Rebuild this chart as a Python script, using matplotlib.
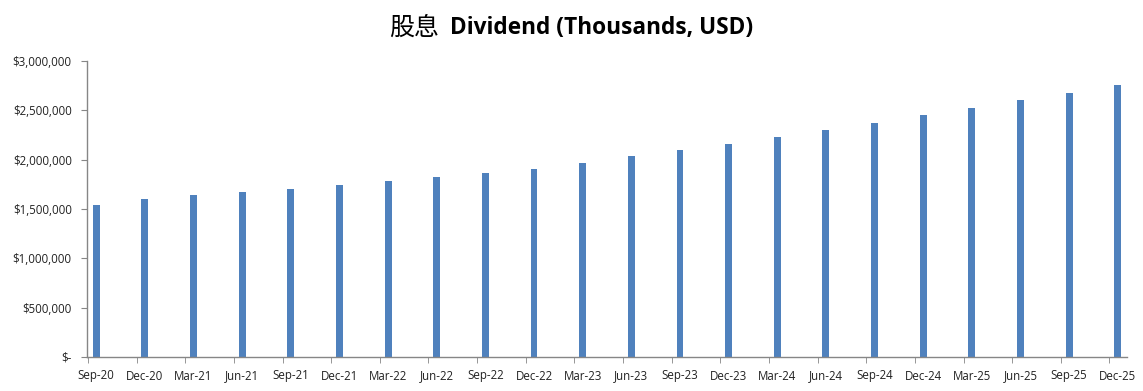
import matplotlib
matplotlib.use("Agg")
import matplotlib.pyplot as plt
from matplotlib.ticker import FuncFormatter, FixedLocator
import numpy as np

# --- DATA ---
quarters = ["Sep-20", "Dec-20", "Mar-21", "Jun-21", "Sep-21", "Dec-21", "Mar-22",
            "Jun-22", "Sep-22", "Dec-22", "Mar-23", "Jun-23", "Sep-23", "Dec-23",
            "Mar-24", "Jun-24", "Sep-24", "Dec-24", "Mar-25", "Jun-25", "Sep-25", "Dec-25"]
dividend = [1537000, 1598000, 1639000, 1669000, 1700000, 1740000, 1781000,
            1821000, 1862000, 1902000, 1963000, 2034000, 2095000, 2156000,
            2227000, 2298000, 2368000, 2449000, 2520000, 2601000, 2672000, 2753000]
y_ticks = [0, 500000, 1000000, 1500000, 2000000, 2500000, 3000000]

BAR_COLOR = "#4F81BD"
AXIS_COLOR = "#868686"

plt.rcParams['font.family'] = ['Open Sans', 'DejaVu Sans']

fig = plt.figure(figsize=(11.43, 3.91), dpi=100)
W, H = 1143, 391
ax = fig.add_axes([87 / W, 1 - 357 / H, (1127 - 87) / W, (357 - 61) / H])

x = np.arange(len(quarters))
ax.bar(x, dividend, width=0.14, color=BAR_COLOR, zorder=2)

ax.set_xlim(-0.19, len(quarters) - 1 + 0.19)
ax.set_ylim(0, 3000000)

# category labels centred on bars, tick marks slightly left (Excel date axis look)
ax.set_xticks(x)
ax.set_xticklabels(quarters, fontsize=8.3, color="#222222")
ax.tick_params(axis='x', length=0, pad=9)
ax.xaxis.set_minor_locator(FixedLocator(x - 0.17))
ax.tick_params(axis='x', which='minor', length=4, color=AXIS_COLOR, direction='out')

ax.yaxis.set_major_locator(FixedLocator(y_ticks))
ax.yaxis.set_major_formatter(FuncFormatter(lambda v, p: "$-" if v == 0 else f"${v:,.0f}"))
ax.tick_params(axis='y', length=4, color=AXIS_COLOR, labelsize=8.3, labelcolor="#222222", pad=7)

for s in ['top', 'right']:
    ax.spines[s].set_visible(False)
for s in ['left', 'bottom']:
    ax.spines[s].set_color(AXIS_COLOR)
    ax.spines[s].set_linewidth(1.0)

# title: Chinese part regular, English part bold
fig.text(389 / W, 1 - 28 / H, "股息", fontsize=18, va='center', ha='left',
         family=['Noto Sans CJK SC', 'DejaVu Sans'])
fig.text(450 / W, 1 - 28 / H, "Dividend (Thousands, USD)", fontsize=16.3, fontweight='bold',
         va='center', ha='left', family=['Open Sans', 'DejaVu Sans'])

fig.savefig("out.png", dpi=100)
plt.close(fig)
